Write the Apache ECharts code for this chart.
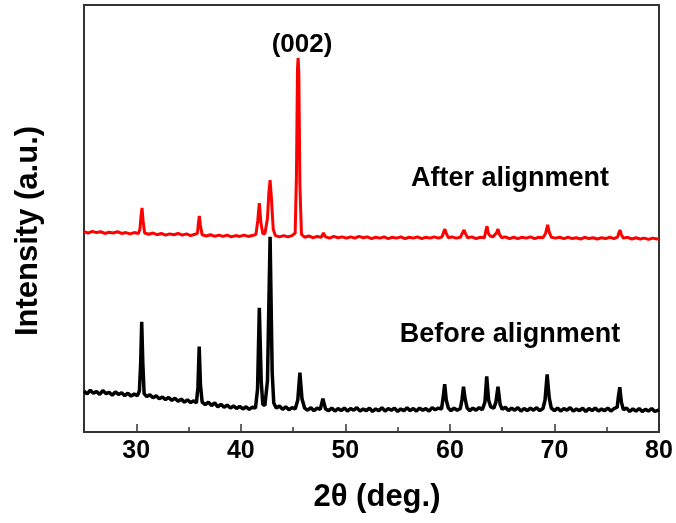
<!DOCTYPE html>
<html>
<head>
<meta charset="utf-8">
<script src="https://cdn.jsdelivr.net/npm/echarts@6/dist/echarts.min.js"></script>
<style>html,body{margin:0;padding:0;background:#fff;}#chart{width:676px;height:523px;}</style>
</head>
<body>
<div id="chart"></div>
<script>
const xMajorTicks = [30, 40, 50, 60, 70, 80];
const xMinorTicks = [35, 45, 55, 65, 75];
const xTitle = '2θ (deg.)';
const yTitle = 'Intensity (a.u.)';
const peakLabel = '(002)';
const afterLabel = 'After alignment';
const beforeLabel = 'Before alignment';

// [2θ, intensity (arbitrary, offset)]
const afterAlignment = [
[25.0,46.9],[25.4,46.6],[25.8,47.0],[26.2,46.7],[26.6,46.9],[27.0,46.5],[27.4,46.8],[27.8,46.6],[28.2,46.9],[28.6,46.5],[29.0,46.7],[29.4,46.4],[29.8,46.7],[30.2,46.5],[30.35,47.5],[30.45,50.5],[30.55,52.5],[30.65,49.5],[30.8,46.6],[31.2,46.3],[31.6,46.6],[32.0,46.2],[32.4,46.5],[32.8,46.1],[33.2,46.4],[33.6,46.2],[34.0,46.5],[34.4,46.1],[34.8,46.4],[35.2,46.0],[35.6,46.3],[35.85,46.5],[35.95,49.0],[36.03,50.6],[36.13,48.5],[36.3,46.2],[36.7,45.9],[37.1,46.2],[37.5,45.8],[37.9,46.1],[38.3,45.8],[38.7,46.1],[39.1,45.7],[39.5,46.0],[39.9,45.8],[40.3,46.1],[40.7,45.8],[41.1,46.0],[41.45,46.3],[41.62,49.5],[41.77,53.6],[41.92,49.0],[42.1,46.5],[42.3,46.4],[42.55,50.0],[42.68,56.0],[42.8,59.0],[42.92,55.0],[43.1,47.5],[43.3,46.0],[43.7,45.7],[44.1,46.0],[44.5,45.7],[44.9,46.0],[45.2,46.6],[45.32,60.0],[45.42,85.0],[45.48,87.6],[45.55,84.0],[45.65,58.0],[45.8,46.3],[46.1,45.6],[46.5,45.9],[46.9,45.5],[47.3,45.8],[47.7,45.6],[47.9,46.6],[48.1,45.7],[48.5,45.4],[48.9,45.8],[49.3,45.5],[49.7,45.7],[50.1,45.4],[50.5,45.7],[50.9,45.4],[51.3,45.8],[51.7,45.5],[52.1,45.7],[52.5,45.3],[52.9,45.6],[53.3,45.4],[53.7,45.7],[54.1,45.3],[54.5,45.6],[54.9,45.4],[55.3,45.7],[55.7,45.3],[56.1,45.6],[56.5,45.4],[56.9,45.7],[57.3,45.3],[57.7,45.6],[58.1,45.4],[58.5,45.7],[58.9,45.4],[59.25,45.7],[59.4,46.8],[59.52,47.5],[59.65,46.5],[59.85,45.5],[60.2,45.7],[60.6,45.4],[61.0,45.6],[61.2,46.6],[61.35,47.3],[61.5,46.4],[61.7,45.5],[62.1,45.7],[62.5,45.3],[62.9,45.6],[63.3,45.5],[63.42,47.0],[63.55,48.2],[63.68,46.5],[63.85,45.9],[64.1,45.7],[64.45,46.6],[64.6,47.5],[64.75,46.2],[64.95,45.5],[65.3,45.7],[65.7,45.3],[66.1,45.6],[66.5,45.3],[66.9,45.6],[67.3,45.4],[67.7,45.7],[68.1,45.3],[68.5,45.6],[68.9,45.5],[69.15,46.5],[69.35,48.5],[69.5,46.8],[69.7,45.6],[70.1,45.4],[70.5,45.6],[70.9,45.3],[71.3,45.6],[71.7,45.3],[72.1,45.5],[72.5,45.2],[72.9,45.6],[73.3,45.3],[73.7,45.5],[74.1,45.2],[74.5,45.5],[74.9,45.3],[75.3,45.6],[75.7,45.3],[76.05,45.7],[76.15,46.6],[76.27,47.3],[76.4,46.2],[76.6,45.4],[77.0,45.6],[77.4,45.2],[77.8,45.5],[78.2,45.2],[78.6,45.4],[79.0,45.1],[79.4,45.4],[79.8,45.2],[80.0,45.3]
];

const beforeAlignment = [
[25.0,9.6],[25.3,8.9],[25.6,9.8],[25.9,9.1],[26.2,9.5],[26.5,8.8],[26.8,9.7],[27.1,9.0],[27.4,9.3],[27.7,8.6],[28.0,9.4],[28.3,8.8],[28.6,9.2],[28.9,8.5],[29.2,9.1],[29.5,8.4],[29.8,8.9],[30.1,8.5],[30.3,9.6],[30.42,16.0],[30.52,25.8],[30.62,16.5],[30.75,9.0],[31.0,8.3],[31.3,8.7],[31.6,8.0],[31.9,8.5],[32.2,7.8],[32.5,8.2],[32.8,7.6],[33.1,8.1],[33.4,7.4],[33.7,7.9],[34.0,7.2],[34.3,7.7],[34.6,7.0],[34.9,7.5],[35.2,6.9],[35.5,7.3],[35.75,6.8],[35.9,10.5],[36.02,20.0],[36.14,11.0],[36.3,7.0],[36.6,6.4],[36.9,7.0],[37.2,6.2],[37.5,6.8],[37.8,5.9],[38.1,6.5],[38.4,5.8],[38.7,6.3],[39.0,5.6],[39.3,6.1],[39.6,5.5],[39.9,6.0],[40.2,5.4],[40.5,5.9],[40.8,5.3],[41.1,5.8],[41.4,5.6],[41.6,10.0],[41.77,29.1],[41.95,12.0],[42.1,6.5],[42.3,6.2],[42.55,12.0],[42.8,45.7],[43.0,14.0],[43.15,6.8],[43.4,5.6],[43.7,6.1],[44.0,5.3],[44.3,5.9],[44.6,5.2],[44.9,5.7],[45.2,5.4],[45.45,7.5],[45.65,13.9],[45.85,7.8],[46.1,5.6],[46.4,5.1],[46.7,5.7],[47.0,5.0],[47.3,5.6],[47.6,5.3],[47.85,7.8],[48.1,5.4],[48.4,5.0],[48.7,5.6],[49.0,4.9],[49.3,5.5],[49.6,5.0],[49.9,5.6],[50.2,4.9],[50.5,5.5],[50.8,5.1],[51.1,5.7],[51.4,4.9],[51.7,5.4],[52.0,5.0],[52.3,5.6],[52.6,4.8],[52.9,5.4],[53.2,5.0],[53.5,5.7],[53.8,4.9],[54.1,5.5],[54.4,5.1],[54.7,5.6],[55.0,4.8],[55.3,5.4],[55.6,5.0],[55.9,5.7],[56.2,5.0],[56.5,5.5],[56.8,4.9],[57.1,5.6],[57.4,5.1],[57.7,5.5],[58.0,4.9],[58.3,5.7],[58.6,5.2],[58.9,5.6],[59.2,5.4],[59.35,8.0],[59.5,11.2],[59.65,7.5],[59.85,5.6],[60.1,5.0],[60.4,5.6],[60.7,5.1],[61.0,5.5],[61.15,7.5],[61.3,10.6],[61.45,7.8],[61.65,5.6],[61.9,5.0],[62.2,5.6],[62.5,5.1],[62.8,5.7],[63.1,5.2],[63.35,7.0],[63.52,13.0],[63.7,7.5],[63.9,5.9],[64.2,5.6],[64.4,7.0],[64.6,10.6],[64.8,6.5],[65.0,5.3],[65.3,5.8],[65.6,5.0],[65.9,5.6],[66.2,5.1],[66.5,5.7],[66.8,4.9],[67.1,5.5],[67.4,5.0],[67.7,5.6],[68.0,5.1],[68.3,5.7],[68.6,5.0],[68.9,5.5],[69.1,7.5],[69.3,13.5],[69.5,8.0],[69.7,5.6],[70.0,5.0],[70.3,5.6],[70.6,4.9],[70.9,5.5],[71.2,5.1],[71.5,5.7],[71.8,4.9],[72.1,5.4],[72.4,5.0],[72.7,5.6],[73.0,4.8],[73.3,5.5],[73.6,5.0],[73.9,5.6],[74.2,4.9],[74.5,5.4],[74.8,5.0],[75.1,5.6],[75.4,4.9],[75.7,5.5],[76.0,5.8],[76.1,8.0],[76.25,10.5],[76.4,7.0],[76.6,5.2],[76.9,5.6],[77.2,4.8],[77.5,5.4],[77.8,4.9],[78.1,5.5],[78.4,4.8],[78.7,5.3],[79.0,4.9],[79.3,5.5],[79.6,4.8],[80.0,5.2]
];

const FONT = '"Liberation Sans", Arial, sans-serif';
const chart = echarts.init(document.getElementById('chart'), null, {renderer: 'canvas'});
chart.setOption({
  animation: false,
  backgroundColor: '#ffffff',
  grid: {left: 84, right: 17, top: 5, bottom: 91, show: true, borderColor: '#333', borderWidth: 2, backgroundColor: 'transparent'},
  xAxis: [{
    type: 'value', min: 25, max: 80,
    axisLine: {show: true, lineStyle: {color: '#333', width: 2}},
    axisTick: {show: true, inside: true, length: 8, customValues: xMajorTicks, lineStyle: {color: '#333', width: 1.5}},
    axisLabel: {show: true, customValues: xMajorTicks, margin: 7, color: '#000', fontSize: 25, fontWeight: 'bold', fontFamily: FONT},
    splitLine: {show: false}
  }, {
    type: 'value', min: 25, max: 80, position: 'bottom',
    axisLine: {show: false},
    axisTick: {show: true, inside: true, length: 5, customValues: xMinorTicks, lineStyle: {color: '#333', width: 1.5}},
    axisLabel: {show: false},
    splitLine: {show: false}
  }],
  yAxis: {
    type: 'value', min: 0, max: 100,
    axisLine: {show: true, lineStyle: {color: '#333', width: 2}},
    axisTick: {show: false}, axisLabel: {show: false}, splitLine: {show: false}
  },
  series: [{
    name: afterLabel, type: 'line', data: afterAlignment, showSymbol: false, symbol: 'none',
    lineStyle: {color: '#ff0000', width: 3}, z: 3
  }, {
    name: beforeLabel, type: 'line', data: beforeAlignment, showSymbol: false, symbol: 'none',
    lineStyle: {color: '#000000', width: 3.5}, z: 2
  }],
  graphic: [
    {type: 'text', x: 302, y: 45, style: {text: peakLabel, fill: '#000', font: 'bold 26px ' + FONT, textAlign: 'center', textVerticalAlign: 'middle'}},
    {type: 'text', x: 510, y: 179, style: {text: afterLabel, fill: '#000', font: 'bold 27px ' + FONT, textAlign: 'center', textVerticalAlign: 'middle'}},
    {type: 'text', x: 510, y: 335, style: {text: beforeLabel, fill: '#000', font: 'bold 27px ' + FONT, textAlign: 'center', textVerticalAlign: 'middle'}},
    {type: 'text', x: 377, y: 497, style: {text: xTitle, fill: '#000', font: 'bold 31px ' + FONT, textAlign: 'center', textVerticalAlign: 'middle'}},
    {type: 'text', x: 28, y: 231, rotation: Math.PI / 2, style: {text: yTitle, fill: '#000', font: 'bold 31px ' + FONT, textAlign: 'center', textVerticalAlign: 'middle'}}
  ]
});
</script>
</body>
</html>
